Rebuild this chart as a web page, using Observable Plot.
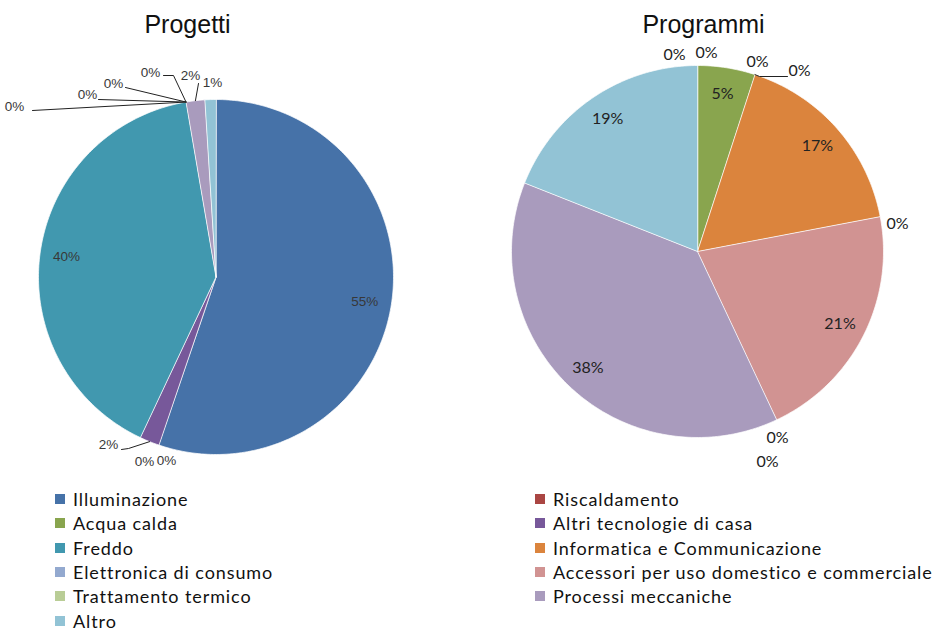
<!DOCTYPE html>
<html>
<head>
<meta charset="utf-8">
<script src="https://cdn.jsdelivr.net/npm/d3@7"></script>
<script src="https://cdn.jsdelivr.net/npm/@observablehq/plot@0.6"></script>
<style>
  html, body { margin: 0; padding: 0; background: #fff; overflow: hidden; }
  #chart svg { display: block; }
  #legend { position: relative; height: 151px; font-family: Lato, "Open Sans", sans-serif; font-size: 18px; color: #111; }
  #legend .col { position: absolute; top: 7px; }
  #legend .item { height: 24.3px; line-height: 24px; white-space: pre; letter-spacing: 0.9px; display: flex; align-items: center; }
  #legend .sw { width: 10px; height: 10px; margin-right: 8px; flex: none; }
</style>
</head>
<body>
<div id="chart"></div>
<div id="legend"></div>
<script>
// ---------- data ----------
const categories = [
  "Illuminazione", "Riscaldamento", "Acqua calda", "Altri tecnologie di casa",
  "Freddo", "Informatica e Communicazione", "Elettronica di consumo",
  "Accessori per uso domestico e commerciale", "Trattamento termico",
  "Processi meccaniche", "Altro"
];
const progettiValues  = [55.2, 0, 0, 1.8, 40.3, 0, 0, 0, 0, 1.7, 1.0];
const programmiValues = [0, 0, 5, 0, 0, 17, 0, 21, 0, 38, 19];
const progettiLabels  = ["55%", "0%", "0%", "2%", "40%", "0%", "0%", "0%", "0%", "2%", "1%"];
const programmiLabels = ["0%", "0%", "5%", "0%", "0%", "17%", "0%", "21%", "0%", "38%", "19%"];
const pieTitles = ["Progetti", "Programmi"];
const legendLeft  = ["Illuminazione", "Acqua calda", "Freddo", "Elettronica di consumo", "Trattamento termico", "Altro"];
const legendRight = ["Riscaldamento", "Altri tecnologie di casa", "Informatica e Communicazione", "Accessori per uso domestico e commerciale", "Processi meccaniche"];

// ---------- styles / layout ----------
const colors = ["#4672A8", "#AA4643", "#89A54E", "#77589A", "#4198AF", "#DB843D",
                "#93A9CF", "#D19392", "#B9CD96", "#A99BBD", "#92C3D5"];
const W = 935, H = 480;
const pieLayout = [
  {cx: 215.5, cy: 276.5, r: 177.5, titleX: 187, inner: 0.85, fontSize: 13.5, font: "Liberation Sans", color: "#383838"},
  {cx: 697,   cy: 251,   r: 186,   titleX: 703, inner: 0.86, fontSize: 16,   font: "Lato",            color: "#222"}
];
// outside label placement: offset of text from pie centre, and optional leader points (offsets)
const outsidePlacement = [
  {
    1: {dx: -49.5, dy: 183.5},
    2: {dx: -71.5, dy: 184.5},
    3: {dx: -107.5, dy: 167.5, leader: [[-94.5, 172.5], [-87.5, 171.5]]},
    5: {dx: -201.5, dy: -170.5, leader: [[-183.5, -166.5]]},
    6: {dx: -128.5, dy: -182.5, leader: [[-117.5, -177.5]]},
    7: {dx: -102.5, dy: -193.5, leader: [[-90.5, -189.5]]},
    8: {dx: -65.5, dy: -204.5, leader: [[-52.5, -201.5], [-42.5, -201.5]]},
    9: {dx: -25.5, dy: -201.5, leader: [[-17.5, -193.5]]},
    10: {dx: -3.5, dy: -194.5}
  },
  {
    0: {dx: -23, dy: -197},
    1: {dx: 9, dy: -199},
    3: {dx: 60, dy: -190},
    4: {dx: 102, dy: -181, leader: [[90, -175], [62, -175]]},
    6: {dx: 200, dy: -28},
    8: {dx: 80, dy: 186}
  }
];
const extraLabels = [{pie: 1, text: "0%", dx: 70, dy: 210}];

// ---------- build geometry from data ----------
const pies = [
  {values: progettiValues, labels: progettiLabels},
  {values: programmiValues, labels: programmiLabels}
];
const slicePts = [], labelRows = [], leaderPts = [], titleRows = [];
pies.forEach((p, pi) => {
  const L = pieLayout[pi];
  const arcs = d3.pie().sort(null).value(d => d)(p.values);
  titleRows.push({x: L.titleX, y: 24, text: pieTitles[pi]});
  const pt = (a, f) => [L.cx + L.r * f * Math.sin(a), L.cy - L.r * f * Math.cos(a)];
  arcs.forEach((a, i) => {
    const key = pi + "-" + i;
    if (a.value > 0) {
      slicePts.push({key, cat: categories[i], x: L.cx, y: L.cy});
      const n = Math.max(2, Math.ceil((a.endAngle - a.startAngle) / (Math.PI / 180)));
      for (let k = 0; k <= n; k++) {
        const ang = a.startAngle + (a.endAngle - a.startAngle) * k / n;
        const [x, y] = pt(ang, 1);
        slicePts.push({key, cat: categories[i], x, y});
      }
    }
    const mid = (a.startAngle + a.endAngle) / 2;
    const place = outsidePlacement[pi][i];
    if (place) {
      labelRows.push({pie: pi, x: L.cx + place.dx, y: L.cy + place.dy, text: p.labels[i]});
      if (place.leader) {
        place.leader.forEach(([dx, dy]) => leaderPts.push({key, x: L.cx + dx, y: L.cy + dy}));
        const [ex, ey] = pt(mid, 1);
        leaderPts.push({key, x: ex, y: ey});
      }
    } else {
      const [x, y] = pt(mid, L.inner);
      labelRows.push({pie: pi, x, y, text: p.labels[i]});
    }
  });
});
extraLabels.forEach(e => {
  const L = pieLayout[e.pie];
  labelRows.push({pie: e.pie, x: L.cx + e.dx, y: L.cy + e.dy, text: e.text});
});

const textMarks = pieLayout.map((L, pi) =>
  Plot.text(labelRows.filter(d => d.pie === pi), {
    x: "x", y: "y", text: "text", fontSize: L.fontSize, fontFamily: L.font, fill: L.color
  })
);

const chart = Plot.plot({
  width: W, height: H, margin: 0,
  x: {domain: [0, W], axis: null},
  y: {domain: [0, H], range: [0, H], axis: null},
  color: {domain: categories, range: colors},
  style: {background: "#fff"},
  marks: [
    Plot.line(slicePts, {x: "x", y: "y", z: "key", fill: "cat", stroke: "white", strokeWidth: 0.7, curve: "linear-closed"}),
    Plot.line(leaderPts, {x: "x", y: "y", z: "key", stroke: "#222", strokeWidth: 1}),
    ...textMarks,
    Plot.text(titleRows, {x: "x", y: "y", text: "text", fontSize: 25, fontFamily: "Liberation Sans", fill: "#111"})
  ]
});
document.getElementById("chart").appendChild(chart);

// ---------- legend ----------
const legend = d3.select("#legend");
[[legendLeft, 55], [legendRight, 535]].forEach(([items, left]) => {
  const col = legend.append("div").attr("class", "col").style("left", left + "px");
  items.forEach(name => {
    const it = col.append("div").attr("class", "item");
    it.append("span").attr("class", "sw").style("background", colors[categories.indexOf(name)]);
    it.append("span").text(name);
  });
});
</script>
</body>
</html>
